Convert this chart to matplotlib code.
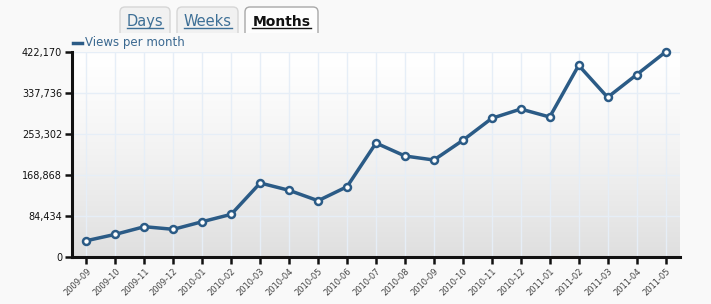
import matplotlib
matplotlib.use("Agg")
import matplotlib.pyplot as plt
import numpy as np
from matplotlib.patches import PathPatch
from matplotlib.path import Path
from matplotlib.ticker import FuncFormatter

months = ["2009-09", "2009-10", "2009-11", "2009-12", "2010-01", "2010-02", "2010-03",
          "2010-04", "2010-05", "2010-06", "2010-07", "2010-08", "2010-09", "2010-10",
          "2010-11", "2010-12", "2011-01", "2011-02", "2011-03", "2011-04", "2011-05"]
views = [33600, 46700, 62400, 57000, 72700, 87900, 152400,
         137300, 115900, 144800, 234700, 208000, 199700, 240300,
         285600, 304700, 288300, 394700, 328800, 375400, 422170]
yticks = [0, 84434, 168868, 253302, 337736, 422170]
tabs = ["Days", "Weeks", "Months"]
series_name = "Views per month"

W, H = 711, 304
fig = plt.figure(figsize=(W / 100, H / 100), dpi=100, facecolor="#f9f9f9")

def fx(px):
    return px / W

def fy(py):
    return 1 - py / H

ax = fig.add_axes([fx(72), fy(257), fx(680) - fx(72), fy(52) - fy(257)])
ax.set_facecolor("none")

x = np.arange(len(months))
ax.set_xlim(-0.5, len(months) - 0.5)
ax.set_ylim(0, yticks[-1])

# gradient background
t = np.linspace(0, 1, 256)
shade = 1 - 0.125 * t ** 1.3
img = np.repeat(shade[:, None, None], 3, axis=2)
ax.imshow(img, extent=[-0.5, len(months) - 0.5, 0, yticks[-1]], aspect="auto",
          zorder=0, origin="upper", vmin=0, vmax=1)

for xi in x:
    ax.axvline(xi, color="#e6eef7", lw=1, zorder=1)
for yt in yticks[1:]:
    ax.axhline(yt, color="#e6eef7", lw=1, zorder=1)

line_color = "#2b5b86"
ax.plot(x, views, color=line_color, lw=2.5, zorder=3, clip_on=False,
        marker="o", markersize=5, markerfacecolor="white",
        markeredgecolor=line_color, markeredgewidth=1.8)

ax.set_yticks(yticks)
ax.yaxis.set_major_formatter(FuncFormatter(lambda v, p: f"{int(round(v)):,}"))
ax.set_xticks(x)
ax.set_xticklabels(months, rotation=45, ha="right", rotation_mode="anchor",
                   fontsize=6, color="#444444")
ax.tick_params(axis="y", labelsize=7, length=5, width=1.8, color="#111111",
               labelcolor="#111111", pad=2)
ax.tick_params(axis="x", length=5, width=1.8, color="#111111", pad=2)

for side in ["top", "right"]:
    ax.spines[side].set_visible(False)
for side in ["left", "bottom"]:
    ax.spines[side].set_color("#111111")
    ax.spines[side].set_linewidth(2.2)
    ax.spines[side].set_zorder(4)

# legend
fig.add_artist(plt.Line2D([fx(73), fx(82)], [fy(42.5), fy(42.5)], color=line_color,
                          lw=2.5, transform=fig.transFigure))
fig.text(fx(85), fy(42.5), series_name, color="#3a6890", fontsize=8.5,
         va="center", ha="left")

# tabs (open at the bottom, rounded top corners)
def tab_path(x0, x1, top, bottom, r, closed):
    verts = [(x0, bottom), (x0, top + r), (x0, top), (x0 + r, top),
             (x1 - r, top), (x1, top), (x1, top + r), (x1, bottom)]
    codes = [Path.MOVETO, Path.LINETO, Path.CURVE3, Path.CURVE3,
             Path.LINETO, Path.CURVE3, Path.CURVE3, Path.LINETO]
    if closed:
        verts.append((x0, bottom))
        codes.append(Path.CLOSEPOLY)
    verts = [(fx(a), fy(b)) for a, b in verts]
    return Path(verts, codes)

tab_boxes = [(120, 170), (177, 238), (245, 318)]
for i, (name, (x0, x1)) in enumerate(zip(tabs, tab_boxes)):
    active = i == len(tabs) - 1
    fc = "#fdfdfd" if active else "#f1f1f1"
    ec = "#a8a8a8" if active else "#d6d6d6"
    fig.add_artist(PathPatch(tab_path(x0, x1, 7, 33, 5, True),
                             transform=fig.transFigure, facecolor=fc,
                             edgecolor="none"))
    fig.add_artist(PathPatch(tab_path(x0, x1, 7, 33, 5, False),
                             transform=fig.transFigure, facecolor="none",
                             edgecolor=ec, lw=1))
    txt = fig.text((fx(x0) + fx(x1)) / 2, fy(21.5), name, ha="center", va="center",
                   fontsize=10 if active else 10.5,
                   color="#111111" if active else "#3d6f96",
                   fontweight="bold" if active else "normal")
    fig.canvas.draw()
    bb = txt.get_window_extent()
    fig.add_artist(plt.Line2D([bb.x0 / W, bb.x1 / W], [fy(28), fy(28)],
                              color=txt.get_color(), lw=1, transform=fig.transFigure))

fig.savefig("out.png", dpi=100, facecolor=fig.get_facecolor())
